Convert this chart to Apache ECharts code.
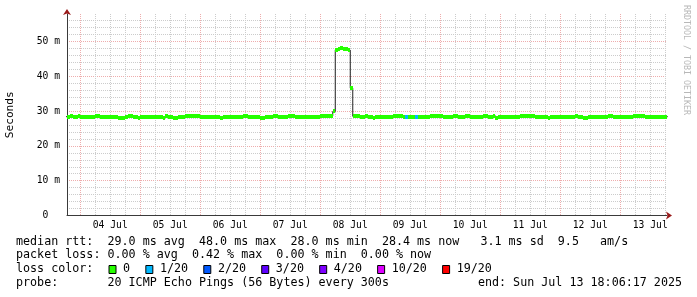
<!DOCTYPE html>
<html><head><meta charset="utf-8">
<script src="https://cdn.jsdelivr.net/npm/echarts@6/dist/echarts.min.js"></script>
<style>html,body{margin:0;padding:0;background:#fff}#c{width:697px;height:297px}</style>
</head><body><div id="c"></div>
<script>
// ---- data ----
const dayLabels = ['04 Jul','05 Jul','06 Jul','07 Jul','08 Jul','09 Jul','10 Jul','11 Jul','12 Jul','13 Jul'];
const yTickValues = [0, 10, 20, 30, 40, 50];
const yTickLabels = ['0  ', '10 m', '20 m', '30 m', '40 m', '50 m'];
const firstHour = 18; // hours since 03 Jul 00:00, one median value per hour
const medianRtt = [
28.4,
28.4, 28.7, 28.4, 28.4, 28.5, 28.4, 28.4, 28.4, 28.4, 28.4,
28.4, 28.5, 28.5, 28.4, 28.4, 28.4, 28.4, 28.3, 28.3, 28.2,
28.1, 28.1, 28.1, 28.4, 28.7, 28.5, 28.3, 28.2, 28.1, 28.3,
28.3, 28.4, 28.4, 28.3, 28.3, 28.3, 28.3, 28.2, 28.1, 28.5,
28.4, 28.2, 28.1, 28.1, 28.2, 28.3, 28.4, 28.5, 28.5, 28.6,
28.6, 28.5, 28.6, 28.4, 28.3, 28.3, 28.3, 28.3, 28.4, 28.4,
28.2, 28.1, 28.2, 28.2, 28.2, 28.2, 28.2, 28.2, 28.2, 28.3,
28.6, 28.5, 28.4, 28.4, 28.4, 28.4, 28.3, 28.1, 28.1,
28.2, 28.3, 28.3, 28.6, 28.5, 28.4, 28.4, 28.4, 28.4, 28.5,
28.5, 28.5, 28.4, 28.2, 28.2, 28.2, 28.2, 28.3, 28.4, 28.2,
28.2, 28.4, 28.5, 28.5, 28.5, 28.5, 28.6, 29.9, 47.6, 47.8,
48.0, 47.9, 47.8, 47.5, 36.6, 28.5, 28.5, 28.5, 28.4, 28.4,
28.5, 28.4, 28.2, 28.1, 28.2, 28.3, 28.4, 28.4, 28.4, 28.4,
28.4, 28.5, 28.5, 28.5, 28.5, 28.3, 28.3, 28.3, 28.3, 28.3,
28.3, 28.2, 28.4, 28.4, 28.4, 28.4, 28.6, 28.6, 28.6, 28.6,
28.5, 28.4, 28.3, 28.3, 28.2, 28.5, 28.6, 28.3, 28.3, 28.3,
28.5, 28.5, 28.3, 28.2, 28.4, 28.4, 28.4, 28.5, 28.5, 28.4,
28.3, 28.6, 28.1, 28.2, 28.3, 28.3, 28.3, 28.4, 28.4, 28.4,
28.4, 28.3, 28.5, 28.5, 28.5, 28.5, 28.7, 28.6, 28.3, 28.2,
28.2, 28.2, 28.2, 28.1, 28.2, 28.2, 28.2, 28.3, 28.4, 28.4,
28.4, 28.4, 28.3, 28.3, 28.5, 28.3, 28.3, 28.1, 28.1, 28.3,
28.3, 28.3, 28.3, 28.4, 28.4, 28.3, 28.2, 28.5, 28.5, 28.4,
28.4, 28.4, 28.4, 28.4, 28.2, 28.2, 28.2, 28.5, 28.6, 28.6,
28.7, 28.5, 28.4, 28.4, 28.4, 28.3, 28.3, 28.4, 28.4, 28.4,
28.4
];
const lossHours = [154, 158];   // hours with packet loss
const lossLevel = [1, 1];       // index into lossNames / lossColors
const lossNames = ['0', '1/20', '2/20', '3/20', '4/20', '10/20', '19/20'];
const lossColors = ['#26ff00', '#00b8ff', '#0059ff', '#5e00ff', '#7e00ff', '#dd00ff', '#ff0000'];
const medianStats = ['29.0 ms avg', '48.0 ms max', '28.0 ms min', '28.4 ms now', ' 3.1 ms sd', '9.5   am/s'];
const lossStats = ['0.00 % avg', '0.42 % max', '0.00 % min', '0.00 % now'];
const probeText = '20 ICMP Echo Pings (56 Bytes) every 300s';
const endText = 'end: Sun Jul 13 18:06:17 2025';
const watermark = 'RRDTOOL / TOBI OETIKER';

// ---- layout / style ----
const MONO = '"DejaVu Sans Mono", monospace';
const xMin = 18.7, xMax = 258.7, yMax = 57.9;
const GRID_C = '#cccccc', MGRID_C = '#eeadad', AXIS_C = '#3a3a3a', ARROW_C = '#9a1a1a';

const grayX = [], redX = [], noonX = [];
for (let v = 24; v <= xMax; v += 6) { (v % 24 === 0 ? redX : grayX).push(v); }
for (let d = 0; d < dayLabels.length; d++) noonX.push(36 + 24 * d);
const grayY = [], redY = [];
for (let v = 2; v <= yMax; v += 2) { (v % 10 === 0 ? redY : grayY).push(v); }

const lossAt = {};
lossHours.forEach((h, i) => lossAt[h] = lossLevel[i]);
const bandData = medianRtt.map((v, i) => [firstHour + i, v, lossAt[firstHour + i] || 0]);
const lineData = medianRtt.map((v, i) => [firstHour + i, v]);
lineData.push([firstHour + medianRtt.length, medianRtt[medianRtt.length - 1]]);

const chart = echarts.init(document.getElementById('c'));

const cv = document.createElement('canvas').getContext('2d');
const LFONT = '11.7px ' + MONO;
cv.font = LFONT;
const tw = s => cv.measureText(s).width;

const graphics = [];
const txt = (s, x, y, extra) => graphics.push(Object.assign({
  type: 'text', x: x, y: y, silent: true,
  style: { text: s, font: LFONT, fill: '#000', verticalAlign: 'middle' }
}, extra || {}));
txt('median rtt:  ' + medianStats.join('  '), 16, 241.6);
txt('packet loss: ' + lossStats.join('  '), 16, 255.4);
txt('loss color:', 16, 269.4);
let cur = 108.5;
lossNames.forEach((n, i) => {
  graphics.push({ type: 'rect', silent: true, shape: { x: cur + 0.5, y: 265.5, width: 7, height: 8 },
    style: { fill: lossColors[i], stroke: '#000', lineWidth: 1 } });
  txt(n, cur + 14.6, 269.4);
  cur += 14.6 + tw(n) + 15.2;
});
txt('probe:       ' + probeText, 16, 283.3);
graphics.push({ type: 'text', x: 682, y: 283.3, silent: true,
  style: { text: endText, font: LFONT, fill: '#000', align: 'right', verticalAlign: 'middle' } });
graphics.push({ type: 'text', x: 686, y: 5, rotation: -Math.PI / 2, silent: true,
  style: { text: watermark, font: '8.3px ' + MONO, fill: '#b8b8b8', align: 'left', verticalAlign: 'middle' } });

const axisFont = { fontFamily: MONO, fontSize: 9.7, color: '#000' };

chart.setOption({
  animation: false,
  backgroundColor: '#fff',
  grid: { left: 67, top: 14, width: 600, height: 201.5, outerBoundsMode: 'none', containLabel: false },
  xAxis: [{
    type: 'value', min: xMin, max: xMax, position: 'bottom',
    axisLine: { show: true, onZero: false, lineStyle: { color: AXIS_C, width: 1 } },
    axisTick: { show: false, customValues: grayX },
    splitLine: { show: true, lineStyle: { color: GRID_C, width: 1, type: [1, 1] } },
    axisLabel: { customValues: noonX, margin: 4.5, ...axisFont,
      formatter: v => dayLabels[Math.round((v - 36) / 24)] }
  }, {
    type: 'value', min: xMin, max: xMax, position: 'bottom',
    axisLine: { show: true, onZero: false, symbol: ['none', 'arrow'], symbolSize: [6, 6], symbolOffset: [0, 5],
      lineStyle: { color: ARROW_C, width: 0 } },
    axisTick: { show: false, customValues: redX },
    splitLine: { show: true, lineStyle: { color: MGRID_C, width: 1, type: [1, 1] } },
    axisLabel: { show: false }
  }],
  yAxis: [{
    type: 'value', min: 0, max: yMax, position: 'left',
    name: 'Seconds', nameLocation: 'middle', nameRotate: 90, nameGap: 51,
    nameTextStyle: { fontFamily: MONO, fontSize: 11.2, color: '#000' },
    axisLine: { show: true, onZero: false, lineStyle: { color: AXIS_C, width: 1 } },
    axisTick: { show: false, customValues: grayY },
    splitLine: { show: true, lineStyle: { color: GRID_C, width: 1, type: [1, 1] } },
    axisLabel: { customValues: yTickValues, margin: 7, ...axisFont,
      formatter: v => yTickLabels[yTickValues.indexOf(Math.round(v))] }
  }, {
    type: 'value', min: 0, max: yMax, position: 'left',
    axisLine: { show: true, onZero: false, symbol: ['none', 'arrow'], symbolSize: [6, 6], symbolOffset: [0, 5],
      lineStyle: { color: ARROW_C, width: 0 } },
    axisTick: { show: false, customValues: redY },
    splitLine: { show: true, lineStyle: { color: MGRID_C, width: 1, type: [1, 1] } },
    axisLabel: { show: false }
  }],
  series: [{
    type: 'line', name: 'median', data: lineData, step: 'end', symbol: 'none',
    lineStyle: { color: '#202020', width: 1 }, z: 2, silent: true
  }, {
    type: 'custom', name: 'loss band', data: bandData, z: 3, silent: true,
    encode: { x: 0, y: 1 },
    renderItem: (params, api) => {
      const h = api.value(0), v = api.value(1), li = api.value(2);
      const p0 = api.coord([h, v]), p1 = api.coord([h + 1, v]);
      const cs = params.coordSys;
      const yc = Math.round(p0[1]);
      const r = echarts.graphic.clipRectByRect(
        { x: Math.round(p0[0]), y: yc - 2, width: Math.round(p1[0]) - Math.round(p0[0]), height: 4 },
        { x: cs.x, y: cs.y, width: cs.width, height: cs.height });
      return r && { type: 'rect', shape: r, style: { fill: lossColors[li] } };
    }
  }],
  graphic: graphics
});
</script></body></html>
